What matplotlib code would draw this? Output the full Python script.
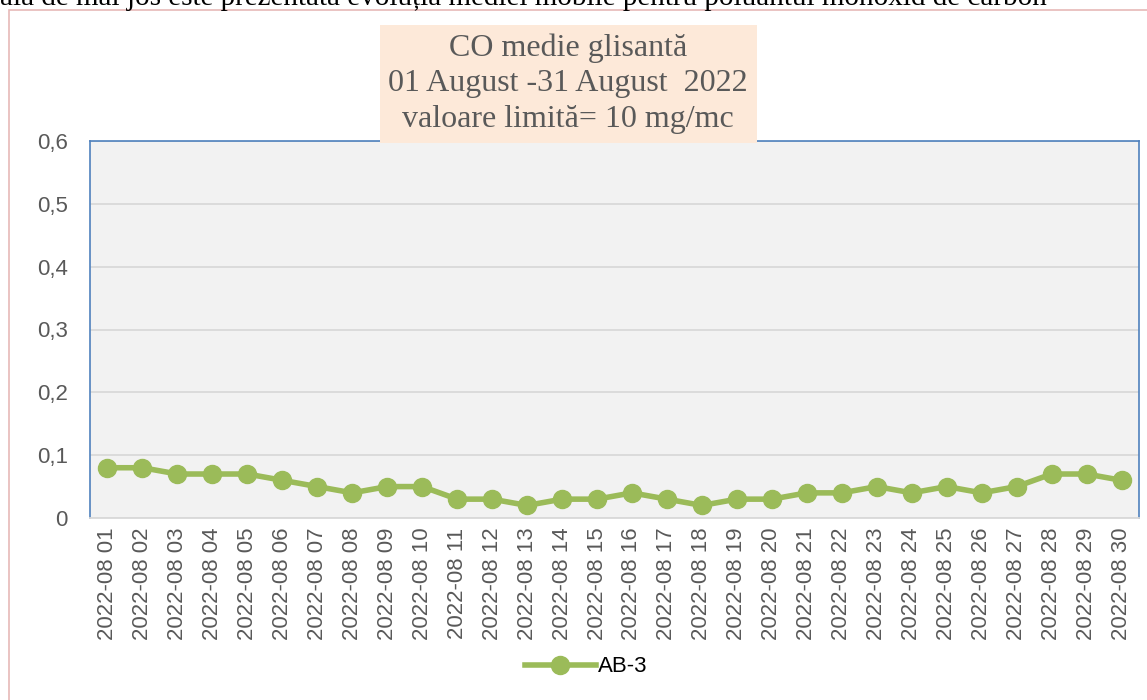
import matplotlib.pyplot as plt
from matplotlib.patches import Rectangle
from matplotlib.lines import Line2D

days = ["2022-08 %02d" % d for d in range(1, 31)]
ab3 = [0.08, 0.08, 0.07, 0.07, 0.07, 0.06, 0.05, 0.04, 0.05, 0.05,
       0.03, 0.03, 0.02, 0.03, 0.03, 0.04, 0.03, 0.02, 0.03, 0.03,
       0.04, 0.04, 0.05, 0.04, 0.05, 0.04, 0.05, 0.07, 0.07, 0.06]
y_ticks = [0, 0.1, 0.2, 0.3, 0.4, 0.5, 0.6]
y_labels = ["0", "0,1", "0,2", "0,3", "0,4", "0,5", "0,6"]
title_lines = ["CO medie glisantă", "01 August -31 August  2022", "valoare limită= 10 mg/mc"]

W, H = 1147, 700
fig = plt.figure(figsize=(W / 100, H / 100), dpi=100)
fig.patch.set_facecolor("white")

# outer chart frame (pink)
fig.patches.append(Rectangle((9 / W, -0.1), 1.2, (H - 10) / H + 0.1,
                             transform=fig.transFigure, fill=False,
                             edgecolor="#E6B9B8", linewidth=1.2))

# document text above the chart, cut by the top edge
fig.text(0.0, 1.0 + 2 / H, "ală de mai jos este prezentată evoluția mediei mobile pentru poluantul monoxid de carbon",
         family="Liberation Serif", fontsize=21, ha="left", va="center", color="black")

ax = fig.add_axes([90 / W, 1 - 518 / H, (1139 - 90) / W, (518 - 141) / H])
ax.set_facecolor("#F2F2F2")
x = list(range(len(days)))
ax.plot(x, ab3, color="#9BBB59", linewidth=4, marker="o", markersize=13, zorder=3)

ax.set_xlim(-0.5, len(days) - 0.5)
ax.set_ylim(0, 0.6)
ax.set_yticks(y_ticks)
ax.set_yticklabels(y_labels, family="Liberation Sans", fontsize=16, color="#595959")
ax.set_xticks(x)
ax.set_xticklabels(days, rotation=90, family="Liberation Sans", fontsize=16, color="#595959")
ax.tick_params(axis="x", length=0, pad=7)
ax.tick_params(axis="y", length=0, pad=16)
ax.grid(axis="y", color="#D9D9D9", linewidth=1.3)
ax.set_axisbelow(True)
for side in ["left", "top", "right"]:
    ax.spines[side].set_color("#4F81BD")
    ax.spines[side].set_linewidth(1.2)
ax.spines["bottom"].set_color("#D9D9D9")
ax.spines["bottom"].set_linewidth(1.3)

# title box
fig.patches.append(Rectangle((380 / W, 1 - 143 / H), (757 - 380) / W, (143 - 25) / H,
                             transform=fig.transFigure, facecolor="#FDE9D9",
                             edgecolor="none", zorder=5))
for i, line in enumerate(title_lines):
    fig.text(568 / W, 1 - (48 + 36 * i) / H, line, family="Liberation Serif",
             fontsize=23, color="#595959", ha="center", va="center", zorder=6)

handle = Line2D([], [], color="#9BBB59", linewidth=4, marker="o", markersize=13)
fig.legend([handle], ["AB-3"], loc="center", bbox_to_anchor=(586 / W, 1 - 667 / H),
           frameon=False, prop={"family": "Liberation Sans", "size": 16},
           handlelength=3.2, handletextpad=0.1, labelcolor="#000000")

fig.savefig("out.png", dpi=100)
